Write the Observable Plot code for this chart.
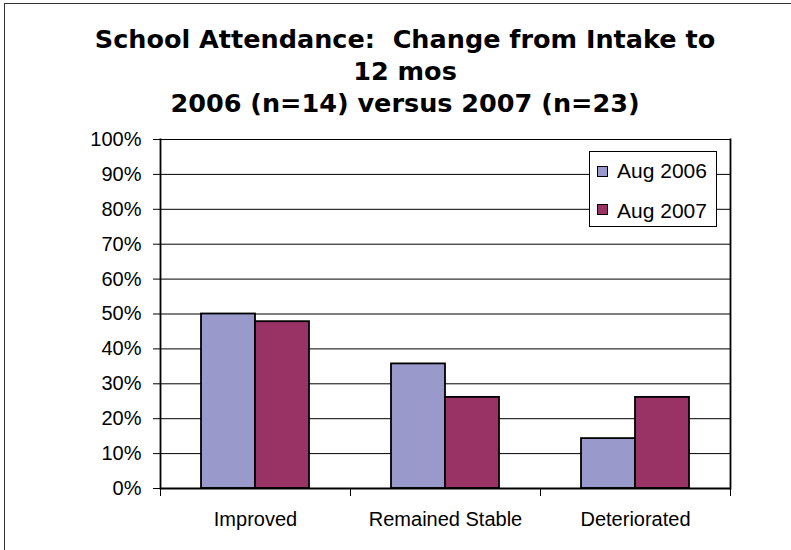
<!DOCTYPE html>
<html>
<head>
<meta charset="utf-8">
<script src="https://cdn.jsdelivr.net/npm/d3@7"></script>
<script src="https://cdn.jsdelivr.net/npm/@observablehq/plot@0.6"></script>
<style>
  html, body { margin: 0; padding: 0; background: #fff; }
  #wrap { position: relative; width: 791px; height: 550px; overflow: hidden; background: #fff; }
  #outer { position: absolute; left: 4px; top: 3px; width: 900px; height: 700px; border: 1.5px solid #333; }
  #chart { position: absolute; left: 0; top: 0; }
  #title { position: absolute; left: 0; top: 22.5px; width: 810px; text-align: center;
           font-family: "DejaVu Sans", Verdana, sans-serif; font-weight: bold; font-size: 25.5px;
           line-height: 32.3px; white-space: pre; color: #000; }
  #legend { position: absolute; left: 589px; top: 151px; width: 128px; height: 76px; box-sizing: border-box;
            border: 1px solid #000; background: #fff; }
  .sw { position: absolute; width: 11px; height: 11px; box-sizing: border-box; border: 1.5px solid #000; }
  .lt { position: absolute; font-family: "Liberation Sans", Arial, sans-serif; font-size: 21px; line-height: 21px; color: #000; white-space: nowrap; }
</style>
</head>
<body>
<div id="wrap">
  <div id="outer"></div>
  <div id="chart"></div>
  <div id="title"></div>
  <div id="legend"></div>
</div>
<script>
const titleLines = ["School Attendance:  Change from Intake to", "12 mos", "2006 (n=14) versus 2007 (n=23)"];
const categories = ["Improved", "Remained Stable", "Deteriorated"];
const series = ["Aug 2006", "Aug 2007"];
const aug2006 = [0.500, 0.357, 0.143];
const aug2007 = [0.478, 0.261, 0.261];
const yTicks = [0, 0.1, 0.2, 0.3, 0.4, 0.5, 0.6, 0.7, 0.8, 0.9, 1.0];
const colors = ["#9999cc", "#993366"];

const data = categories.flatMap((c, i) => [
  {category: c, series: series[0], value: aug2006[i]},
  {category: c, series: series[1], value: aug2007[i]}
]);

document.getElementById("title").textContent = titleLines.join("\n");

const H = 550, MT = 139, MB = 62;
const plotH = H - MT - MB;

const chart = Plot.plot({
  width: 791,
  height: H,
  marginLeft: 159,
  marginRight: 61,
  marginTop: MT,
  marginBottom: MB,
  style: {fontFamily: "'Liberation Sans', Arial, sans-serif", fontSize: "20px", color: "#000", background: "transparent"},
  fx: {domain: categories, padding: 0, label: null, axis: "bottom", tickSize: 0, tickPadding: 23},
  x: {domain: series, paddingInner: 0, paddingOuter: 0.74, axis: null},
  y: {domain: [0, 1], ticks: yTicks, tickFormat: d3.format(".0%"), tickSize: 7, tickPadding: 12, label: null},
  color: {domain: series, range: colors},
  marks: [
    Plot.ruleY(yTicks, {stroke: "#000", strokeWidth: 1}),
    Plot.barY(data, {fx: "category", x: "series", y: "value", fill: "series", stroke: "#000", strokeWidth: 1.8}),
    Plot.ruleY([0], {stroke: "#000", strokeWidth: 1.8}),
    Plot.frame({anchor: "left", fx: [categories[0]], stroke: "#000", strokeWidth: 1.8}),
    Plot.frame({anchor: "right", fx: [categories[categories.length - 1]], stroke: "#000", strokeWidth: 1.8}),
    Plot.frame({anchor: "left", insetTop: plotH, insetBottom: -7, stroke: "#000", strokeWidth: 1}),
    Plot.frame({anchor: "right", insetTop: plotH, insetBottom: -7, stroke: "#000", strokeWidth: 1})
  ]
});
document.getElementById("chart").appendChild(chart);

// legend
const legend = document.getElementById("legend");
const rows = [{swTop: 14, txtTop: 8}, {swTop: 52, txtTop: 47.9}];
series.forEach((s, i) => {
  const sw = document.createElement("div");
  sw.className = "sw";
  sw.style.left = "7px";
  sw.style.top = rows[i].swTop + "px";
  sw.style.background = colors[i];
  legend.appendChild(sw);
  const t = document.createElement("div");
  t.className = "lt";
  t.style.left = "27px";
  t.style.top = rows[i].txtTop + "px";
  t.textContent = s;
  legend.appendChild(t);
});
</script>
</body>
</html>
